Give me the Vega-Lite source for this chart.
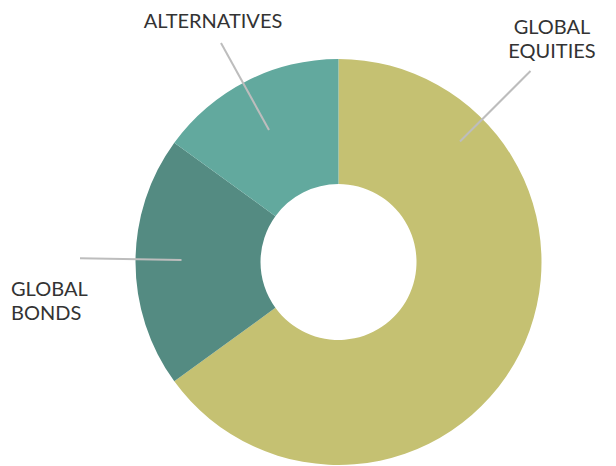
{
  "$schema": "https://vega.github.io/schema/vega-lite/v6.json",
  "width": 616,
  "height": 466,
  "autosize": {"type": "fit", "contains": "padding"},
  "padding": 0,
  "background": "white",
  "config": {"view": {"stroke": null}},
  "layer": [
    {
      "data": {"values": [
        {"category": "Global Equities", "value": 65, "rank": 1},
        {"category": "Global Bonds", "value": 20, "rank": 2},
        {"category": "Alternatives", "value": 15, "rank": 3}
      ]},
      "mark": {"type": "arc", "outerRadius": 203, "innerRadius": 78},
      "encoding": {
        "theta": {"field": "value", "type": "quantitative", "stack": true},
        "order": {"field": "rank", "type": "quantitative"},
        "x": {"datum": 338.5, "type": "quantitative", "scale": {"domain": [0, 616]}, "axis": null},
        "y": {"datum": 262, "type": "quantitative", "scale": {"domain": [0, 466], "reverse": true}, "axis": null},
        "color": {
          "field": "category", "type": "nominal",
          "scale": {"domain": ["Global Equities", "Global Bonds", "Alternatives"], "range": ["#C5C172", "#548B82", "#62A99E"]},
          "legend": null
        }
      }
    },
    {
      "data": {"values": [
        {"category": "Alternatives", "x1": 221, "y1": 43, "x2": 269, "y2": 130},
        {"category": "Global Equities", "x1": 530.5, "y1": 71, "x2": 460, "y2": 141.5},
        {"category": "Global Bonds", "x1": 80, "y1": 258.3, "x2": 181.5, "y2": 260}
      ]},
      "mark": {"type": "rule", "color": "#BDBDBD", "strokeWidth": 2},
      "encoding": {
        "x": {"field": "x1", "type": "quantitative", "scale": {"domain": [0, 616]}, "axis": null},
        "y": {"field": "y1", "type": "quantitative", "scale": {"domain": [0, 466], "reverse": true}, "axis": null},
        "x2": {"field": "x2"},
        "y2": {"field": "y2"}
      }
    },
    {
      "data": {"values": [
        {"label": ["ALTERNATIVES"], "lx": 213, "ly": 28.3},
        {"label": ["GLOBAL", "EQUITIES"], "lx": 552, "ly": 34.3}
      ]},
      "mark": {"type": "text", "font": "Lato", "fontSize": 20, "color": "#333333", "align": "center", "baseline": "alphabetic", "lineHeight": 23.3},
      "encoding": {
        "x": {"field": "lx", "type": "quantitative", "scale": {"domain": [0, 616]}, "axis": null},
        "y": {"field": "ly", "type": "quantitative", "scale": {"domain": [0, 466], "reverse": true}, "axis": null},
        "text": {"field": "label"}
      }
    },
    {
      "data": {"values": [
        {"label": ["GLOBAL", "BONDS"], "lx": 11, "ly": 296}
      ]},
      "mark": {"type": "text", "font": "Lato", "fontSize": 20, "color": "#333333", "align": "left", "baseline": "alphabetic", "lineHeight": 24},
      "encoding": {
        "x": {"field": "lx", "type": "quantitative", "scale": {"domain": [0, 616]}, "axis": null},
        "y": {"field": "ly", "type": "quantitative", "scale": {"domain": [0, 466], "reverse": true}, "axis": null},
        "text": {"field": "label"}
      }
    }
  ]
}
